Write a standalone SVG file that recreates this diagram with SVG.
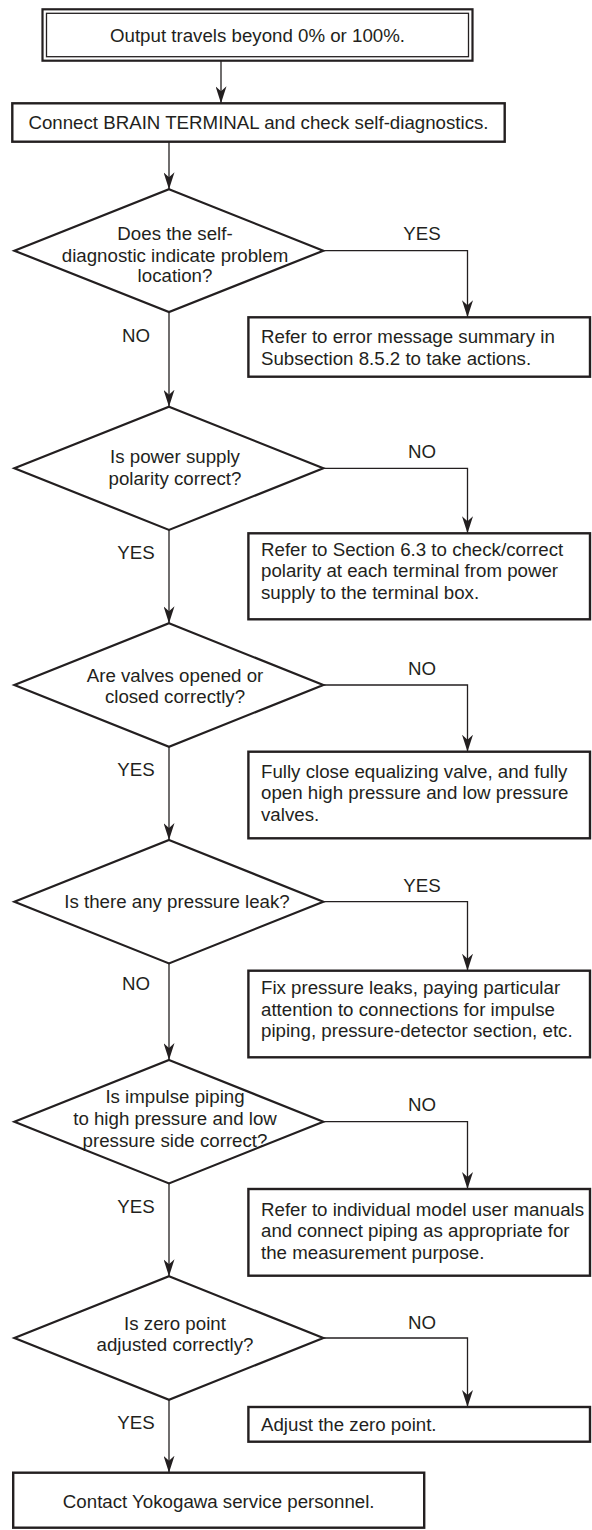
<svg xmlns="http://www.w3.org/2000/svg" width="592" height="1530" viewBox="0 0 592 1530">
<style>
  text { font-family: "Liberation Sans", Arial, sans-serif; font-size: 18.7px; fill: #231f20; }
  .c { text-anchor: middle; }
  .box { fill: #fff; stroke: #231f20; stroke-width: 2.4; }
  .dia { fill: #fff; stroke: #231f20; stroke-width: 2.2; stroke-linejoin: miter; }
  .conn { fill: none; stroke: #231f20; stroke-width: 1.3; }
</style>
<defs>
  <marker id="ah" viewBox="0 0 17 11" markerWidth="17" markerHeight="11" refX="17" refY="5.5" orient="auto" markerUnits="userSpaceOnUse">
    <path d="M0,0 L17,5.5 L0,11 L5,5.5 Z" fill="#231f20"/>
  </marker>
</defs>
<rect x="0" y="0" width="592" height="1530" fill="#fff"/>

<g id="connectors">
  <path class="conn" d="M221,60.7 V103.3" marker-end="url(#ah)"/>
  <path class="conn" d="M169,141.7 V189.3" marker-end="url(#ah)"/>
  <path class="conn" d="M323.3,250.7 H467.5 V317.3" marker-end="url(#ah)"/>
  <path class="conn" d="M169,312.4 V406.7" marker-end="url(#ah)"/>
  <path class="conn" d="M323.3,468.3 H467.5 V533.3" marker-end="url(#ah)"/>
  <path class="conn" d="M169,530 V623.3" marker-end="url(#ah)"/>
  <path class="conn" d="M323.3,685 H467.5 V751.7" marker-end="url(#ah)"/>
  <path class="conn" d="M169,746.7 V840" marker-end="url(#ah)"/>
  <path class="conn" d="M323.3,901.7 H467.5 V970.7" marker-end="url(#ah)"/>
  <path class="conn" d="M169,963.4 V1060" marker-end="url(#ah)"/>
  <path class="conn" d="M323.3,1121.7 H467.5 V1189" marker-end="url(#ah)"/>
  <path class="conn" d="M169,1183.4 V1276.3" marker-end="url(#ah)"/>
  <path class="conn" d="M323.3,1338 H467.5 V1407" marker-end="url(#ah)"/>
  <path class="conn" d="M169,1399.7 V1472.7" marker-end="url(#ah)"/>
  <text class="c" x="422" y="240">YES</text>
  <text class="c" x="136" y="341.5">NO</text>
  <text class="c" x="422" y="457.5">NO</text>
  <text class="c" x="136" y="559">YES</text>
  <text class="c" x="422" y="674.5">NO</text>
  <text class="c" x="136" y="776">YES</text>
  <text class="c" x="422" y="891.5">YES</text>
  <text class="c" x="136" y="990">NO</text>
  <text class="c" x="422" y="1111">NO</text>
  <text class="c" x="136" y="1213">YES</text>
  <text class="c" x="422" y="1329">NO</text>
  <text class="c" x="136" y="1428.5">YES</text>
</g>

<g id="start">
  <rect x="42.5" y="9.3" width="430" height="51.4" fill="#fff" stroke="#231f20" stroke-width="2.2"/>
  <rect x="46.5" y="13.3" width="422" height="43.4" fill="none" stroke="#231f20" stroke-width="1.3"/>
  <text class="c" x="257.5" y="41.7">Output travels beyond 0% or 100%.</text>
</g>

<g id="connect">
  <rect class="box" x="12.3" y="103.3" width="492.4" height="38.4"/>
  <text class="c" x="258.5" y="129">Connect BRAIN TERMINAL and check self-diagnostics.</text>
</g>

<g id="d1">
  <polygon class="dia" points="169,189.3 323.3,250.7 169,312.1 14.4,250.7"/>
  <text class="c" x="175" y="240">Does the self-</text>
  <text class="c" x="175" y="261.5">diagnostic indicate problem</text>
  <text class="c" x="175" y="282">location?</text>
</g>
<g id="s1">
  <rect class="box" x="248.4" y="317.3" width="341.6" height="59.4"/>
  <text x="261" y="343.3">Refer to error message summary in</text>
  <text x="261" y="365">Subsection 8.5.2 to take actions.</text>
</g>

<g id="d2">
  <polygon class="dia" points="169,406.7 323.3,468.3 169,529.9 14.4,468.3"/>
  <text class="c" x="175" y="463.3">Is power supply</text>
  <text class="c" x="175" y="485">polarity correct?</text>
</g>
<g id="s2">
  <rect class="box" x="248.4" y="533.3" width="341.6" height="86"/>
  <text x="261" y="555.5">Refer to Section 6.3 to check/correct</text>
  <text x="261" y="577">polarity at each terminal from power</text>
  <text x="261" y="598.5">supply to the terminal box.</text>
</g>

<g id="d3">
  <polygon class="dia" points="169,623.3 323.3,685 169,746.7 14.4,685"/>
  <text class="c" x="175" y="681.7">Are valves opened or</text>
  <text class="c" x="175" y="703.3">closed correctly?</text>
</g>
<g id="s3">
  <rect class="box" x="248.4" y="751.7" width="341.6" height="86.6"/>
  <text x="261" y="777.5">Fully close equalizing valve, and fully</text>
  <text x="261" y="799">open high pressure and low pressure</text>
  <text x="261" y="820.5">valves.</text>
</g>

<g id="d4">
  <polygon class="dia" points="169,840 323.3,901.7 169,963.4 14.4,901.7"/>
  <text class="c" x="177" y="908.3">Is there any pressure leak?</text>
</g>
<g id="s4">
  <rect class="box" x="248.4" y="970.7" width="341.6" height="86.6"/>
  <text x="261" y="994">Fix pressure leaks, paying particular</text>
  <text x="261" y="1015.5">attention to connections for impulse</text>
  <text x="261" y="1037">piping, pressure-detector section, etc.</text>
</g>

<g id="d5">
  <polygon class="dia" points="169,1060 323.3,1121.7 169,1183.4 14.4,1121.7"/>
  <text class="c" x="175" y="1103.3">Is impulse piping</text>
  <text class="c" x="175" y="1125">to high pressure and low</text>
  <text class="c" x="175" y="1146.7">pressure side correct?</text>
</g>
<g id="s5">
  <rect class="box" x="248.4" y="1189" width="341.6" height="86.7"/>
  <text x="261" y="1215.5">Refer to individual model user manuals</text>
  <text x="261" y="1237">and connect piping as appropriate for</text>
  <text x="261" y="1258.5">the measurement purpose.</text>
</g>

<g id="d6">
  <polygon class="dia" points="169,1276.3 323.3,1338 169,1399.7 14.4,1338"/>
  <text class="c" x="175" y="1330">Is zero point</text>
  <text class="c" x="175" y="1351">adjusted correctly?</text>
</g>
<g id="s6">
  <rect class="box" x="248.4" y="1407" width="341.6" height="34.7"/>
  <text x="261" y="1430.5">Adjust the zero point.</text>
</g>

<g id="end">
  <rect class="box" x="13.2" y="1472.7" width="411" height="55"/>
  <text class="c" x="218.7" y="1508">Contact Yokogawa service personnel.</text>
</g>
</svg>
